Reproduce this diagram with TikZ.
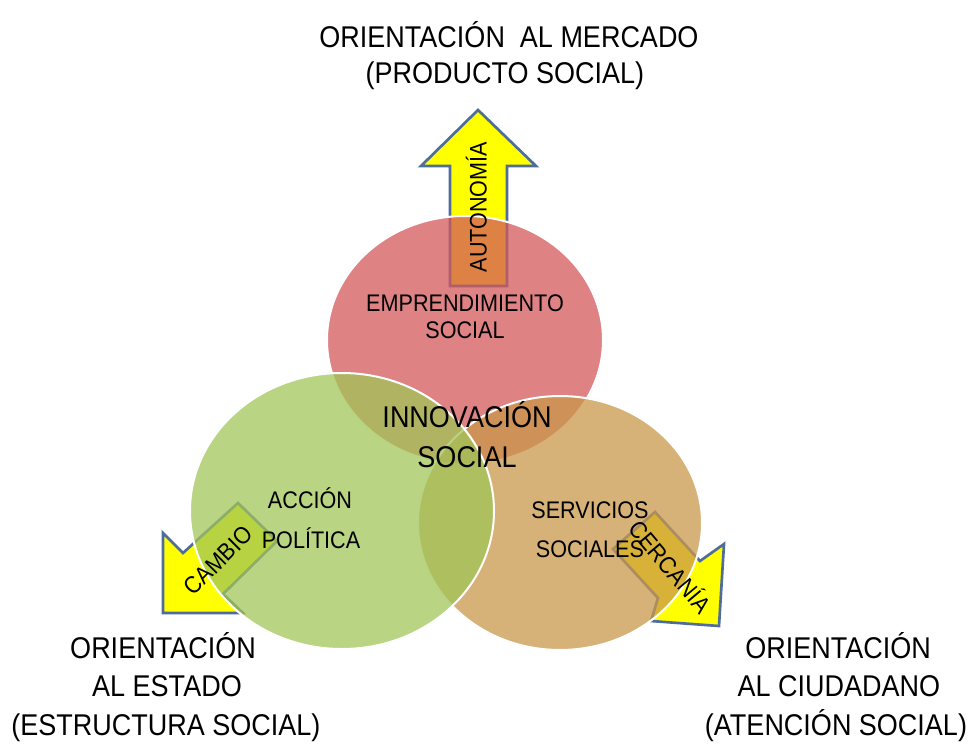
\documentclass[tikz,border=0pt]{standalone}
\usepackage{fontspec}
\setmainfont{Liberation Sans}[FakeStretch=0.9]
\definecolor{redc}{RGB}{211,88,91}
\definecolor{greenc}{RGB}{161,197,88}
\definecolor{tanc}{RGB}{202,152,75}
\definecolor{arrowline}{RGB}{79,109,154}
\definecolor{arrowfill}{RGB}{255,255,0}
\begin{document}
\begin{tikzpicture}[x=0.75pt,y=-0.75pt,
  arrowshape/.style={draw=arrowline, fill=arrowfill, line width=2pt, line join=miter},
  circ/.style={draw=white, line width=1.5pt, fill opacity=0.75},
  big/.style={font=\fontsize{22.5}{27}\selectfont, anchor=base, inner sep=0pt},
  inno/.style={font=\fontsize{22.5}{27}\selectfont, anchor=base, inner sep=0pt},
  small/.style={font=\fontsize{18}{21}\selectfont, anchor=base, inner sep=0pt},
  rot/.style={font=\fontsize{18}{21}\selectfont, anchor=center, inner sep=0pt, text height=12.9pt, text depth=0pt}]
\useasboundingbox (0,0) rectangle (971,743);
% arrows (under the circles)
\draw[arrowshape] (478,110) -- (536,166) -- (507,166) -- (507,286) -- (450,286) -- (450,166) -- (421,166) -- cycle;
\draw[arrowshape] (163,613) -- (163,533) -- (183,553) -- (238,503) -- (277,541) -- (223,594) -- (243,613) -- cycle;
\draw[arrowshape] (719,626) -- (724,544) -- (700,561) -- (655,512) -- (613,549) -- (658,598) -- (651,621) -- cycle;
% circles
\draw[circ, fill=redc] (465,340) ellipse [x radius=103.5pt, y radius=93pt];
\draw[circ, fill=tanc] (560,523) ellipse [x radius=106.5pt, y radius=95.25pt];
\draw[circ, fill=greenc] (342,511) ellipse [x radius=114pt, y radius=103.5pt];
% arrow labels
\node[rot, rotate=90] (auto) at (478,207) {AUTONOMÍA};
\node[rot, rotate=45] (camb) at (218,560) {CAMBIO};
\node[rot, rotate=-50] (cerc) at (670,567) {CERCANÍA};
% circle labels
\node[small] (emp1) at (465,311) {EMPRENDIMIENTO};
\node[small] (emp2) at (465,338) {SOCIAL};
\node[inno] (inn1) at (467,427) {INNOVACIÓN};
\node[inno] (inn2) at (467,467) {SOCIAL};
\node[small] (acc1) at (310,508) {ACCIÓN};
\node[small] (acc2) at (311,548) {POLÍTICA};
\node[small] (ser1) at (590,518) {SERVICIOS};
\node[small] (ser2) at (590,557) {SOCIALES};
% orientation labels
\node[big] (top1) at (509,47) {ORIENTACIÓN\ \ AL MERCADO};
\node[big] (top2) at (505,83) {(PRODUCTO SOCIAL)};
\node[big] (left1) at (163,658) {ORIENTACIÓN};
\node[big] (left2) at (167,696) {AL ESTADO};
\node[big] (left3) at (166,735) {(ESTRUCTURA SOCIAL)};
\node[big] (right1) at (838,658) {ORIENTACIÓN};
\node[big] (right2) at (839,696) {AL CIUDADANO};
\node[big] (right3) at (836,735) {(ATENCIÓN SOCIAL)};
\end{tikzpicture}
\end{document}
